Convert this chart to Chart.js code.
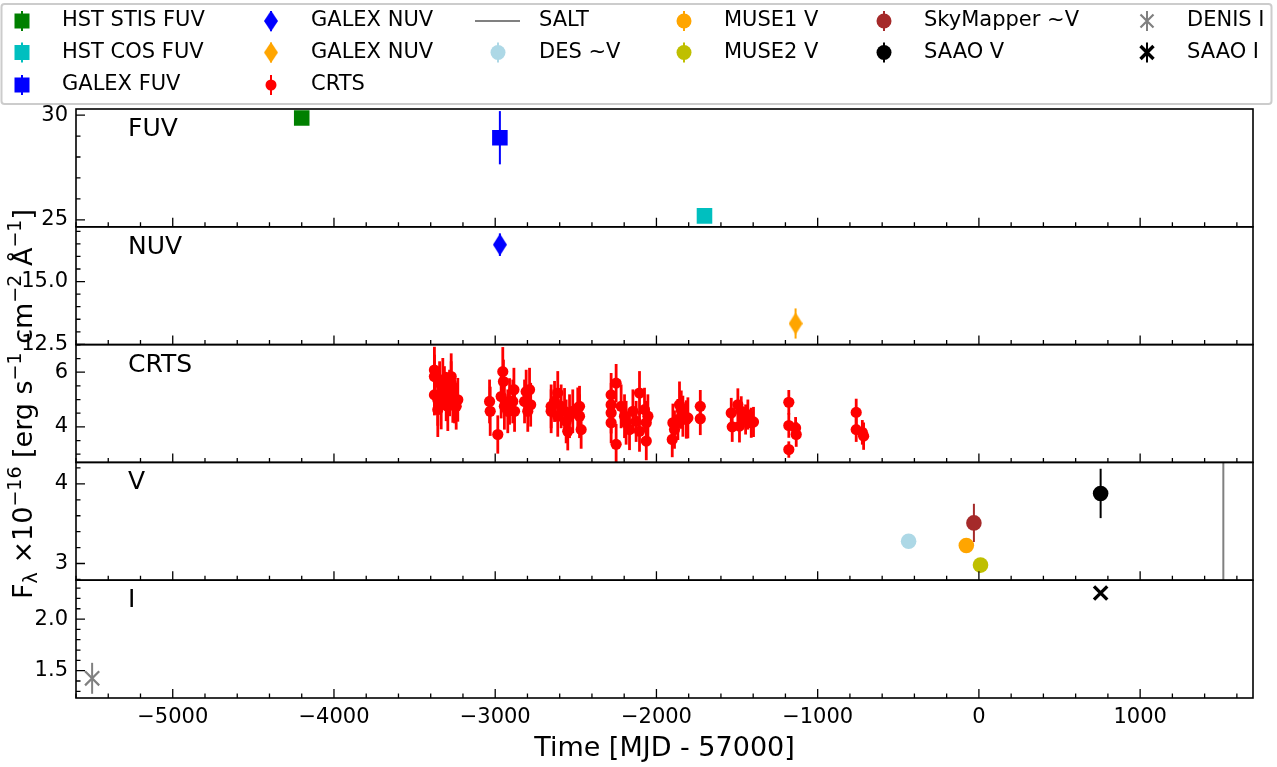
<!DOCTYPE html>
<html>
<head>
<meta charset="utf-8">
<script src="https://cdn.jsdelivr.net/npm/chart.js@4.4.1/dist/chart.umd.min.js"></script>
<style>
  html, body { margin: 0; padding: 0; background: #fff; }
  canvas { display: block; }
</style>
</head>
<body>
<canvas id="lc" width="1277" height="767"></canvas>
<script>
// time in MJD - 57000, flux in 1e-16 erg/s/cm2/A
const stisMjd = [-4200], stisFlux = [29.86], stisErr = [0];
const cosMjd = [-1702], cosFlux = [25.19], cosErr = [0];
const galexFuvMjd = [-2971], galexFuvFlux = [28.92], galexFuvErr = [1.27];
const galexNuvMjd = [-2971], galexNuvFlux = [16.47], galexNuvErr = [0.45];
const galexNuv2Mjd = [-1137], galexNuv2Flux = [13.33], galexNuv2Err = [0.6];

const crtsMjd = [
  -3377, -3377, -3377, -3356, -3356, -3345, -3335, -3325, -3315, -3304, -3294, -3283, -3273, -3273, -3263, -3252, -3242, -3232,
  -3035, -3031, -2984, -2963, -2953, -2949, -2943, -2922, -2911, -2891, -2884, -2880, -2818, -2808, -2798, -2787, -2780,
  -2653, -2653, -2632, -2612, -2612, -2591, -2570, -2560, -2550, -2539, -2519, -2488, -2477, -2477, -2467,
  -2281, -2281, -2281, -2281, -2250, -2250, -2219, -2198, -2188, -2167, -2146, -2126, -2105, -2105, -2074, -2063, -2063, -2053,
  -1902, -1898, -1888, -1867, -1857, -1846, -1836, -1815, -1805, -1728, -1728,
  -1536, -1530, -1495, -1485, -1474, -1447, -1433, -1412, -1398,
  -1179, -1179, -1179, -1137, -1133,
  -761, -761, -723, -715
];
const crtsFlux = [
  6.08, 5.84, 5.17, 4.99, 4.63, 5.60, 4.81, 5.72, 5.42, 5.11, 4.75, 5.24, 5.84, 5.60, 5.05, 4.93, 4.75, 4.99,
  4.93, 4.57, 3.72, 5.11, 6.02, 5.66, 4.75, 4.57, 4.93, 4.93, 5.36, 4.57, 4.93, 5.29, 4.57, 5.36, 4.81,
  4.75, 4.57, 4.93, 5.24, 4.39, 4.75, 4.57, 4.20, 3.84, 4.39, 4.57, 4.69, 4.39, 4.75, 3.90,
  5.17, 4.81, 4.51, 4.15, 5.60, 3.36, 4.75, 4.39, 4.15, 3.90, 4.57, 4.20, 5.24, 3.84, 4.63, 4.15, 3.48, 4.39,
  3.54, 4.15, 3.90, 4.27, 4.81, 4.63, 4.39, 4.27, 4.33, 4.75, 4.30,
  4.51, 4.00, 4.81, 4.03, 4.57, 4.27, 4.45, 4.15, 4.18,
  4.90, 4.05, 3.17, 3.96, 3.72,
  4.53, 3.90, 3.80, 3.66
];
const crtsErr = [
  0.85, 0.80, 0.75, 0.95, 1.00, 0.80, 0.90, 0.80, 0.80, 0.90, 0.90, 0.85, 0.85, 0.80, 0.90, 0.80, 0.85, 0.80,
  0.80, 0.90, 0.70, 0.80, 0.90, 0.80, 0.85, 0.80, 0.85, 0.80, 0.80, 0.75, 0.80, 0.80, 0.75, 0.80, 0.80,
  0.80, 0.80, 0.75, 0.80, 0.75, 0.80, 0.85, 0.80, 0.70, 0.80, 0.80, 0.75, 0.80, 0.75, 0.70,
  0.80, 0.80, 0.75, 0.75, 0.70, 0.75, 0.80, 0.80, 0.80, 0.75, 0.80, 0.75, 0.80, 0.75, 0.80, 0.80, 0.70, 0.80,
  0.65, 0.70, 0.70, 0.75, 0.85, 0.70, 0.75, 0.70, 0.75, 0.60, 0.60,
  0.55, 0.55, 0.60, 0.60, 0.55, 0.55, 0.55, 0.55, 0.55,
  0.45, 0.45, 0.30, 0.40, 0.45,
  0.50, 0.45, 0.45, 0.50
];

const saltMjd = 1516;
const desMjd = [-436], desFlux = [3.28], desErr = [0];
const muse1Mjd = [-78], muse1Flux = [3.226], muse1Err = [0];
const muse2Mjd = [10], muse2Flux = [2.98], muse2Err = [0];
const skyMjd = [-31], skyFlux = [3.51], skyErr = [0.24];
const saaoVMjd = [755], saaoVFlux = [3.88], saaoVErr = [0.31];
const denisMjd = [-5500], denisFlux = [1.426], denisErr = [0.15];
const saaoIMjd = [755], saaoIFlux = [2.253], saaoIErr = [0.01];

// axis limits and tick marks
const xLim = [-5600, 1700];
const xMajor = [-5000, -4000, -3000, -2000, -1000, 0, 1000];
const panels = [
  { id: 'yFUV', name: 'FUV', lim: [24.67, 30.29], major: [25, 30], minor: 1, dec: 0 },
  { id: 'yNUV', name: 'NUV', lim: [12.49, 17.18], major: [12.5, 15.0], minor: 0.5, dec: 1 },
  { id: 'yCRTS', name: 'CRTS', lim: [2.70, 7.01], major: [4, 6], minor: 0.5, dec: 0 },
  { id: 'yV', name: 'V', lim: [2.79, 4.27], major: [3, 4], minor: 0.2, dec: 0 },
  { id: 'yI', name: 'I', lim: [1.235, 2.377], major: [1.5, 2.0], minor: 0.1, dec: 1 }
];

const FONT = 'DejaVu Sans';
Chart.defaults.font.family = FONT;
Chart.defaults.color = '#000';

function diamond(color, w, h) {
  const c = document.createElement('canvas');
  c.width = w; c.height = h;
  const g = c.getContext('2d');
  g.fillStyle = color;
  g.beginPath();
  g.moveTo(w / 2, 0); g.lineTo(w, h / 2); g.lineTo(w / 2, h); g.lineTo(0, h / 2);
  g.closePath(); g.fill();
  return c;
}

const pts = (xs, ys) => xs.map((x, i) => ({ x, y: ys[i] }));

function series(label, axis, xs, ys, errs, color, style, radius, extra) {
  return Object.assign({
    label, yAxisID: axis, data: pts(xs, ys), errs, errColor: color, errWidth: 2,
    pointStyle: style, pointRadius: radius, pointHoverRadius: radius,
    backgroundColor: color, borderColor: color, borderWidth: 0, showLine: false
  }, extra || {});
}

const vPanel = panels[3];
const datasets = [
  series('HST STIS FUV', 'yFUV', stisMjd, stisFlux, stisErr, '#008000', 'rect', 11),
  series('HST COS FUV', 'yFUV', cosMjd, cosFlux, cosErr, '#00bfbf', 'rect', 11),
  series('GALEX FUV', 'yFUV', galexFuvMjd, galexFuvFlux, galexFuvErr, '#0000ff', 'rect', 11),
  series('GALEX NUV', 'yNUV', galexNuvMjd, galexNuvFlux, galexNuvErr, '#0000ff', diamond('#0000ff', 14, 22), 11),
  series('GALEX NUV', 'yNUV', galexNuv2Mjd, galexNuv2Flux, galexNuv2Err, '#ffa500', diamond('#ffa500', 14, 22), 11),
  series('CRTS', 'yCRTS', crtsMjd, crtsFlux, crtsErr, '#ff0000', 'circle', 5.6, { errWidth: 2.8 }),
  {
    label: 'SALT', yAxisID: 'yV', showLine: true, borderColor: '#808080', borderWidth: 2,
    pointRadius: 0, data: [{ x: saltMjd, y: vPanel.lim[0] }, { x: saltMjd, y: vPanel.lim[1] }]
  },
  series('DES ~V', 'yV', desMjd, desFlux, desErr, '#add8e6', 'circle', 7.8),
  series('MUSE1 V', 'yV', muse1Mjd, muse1Flux, muse1Err, '#ffa500', 'circle', 7.8),
  series('MUSE2 V', 'yV', muse2Mjd, muse2Flux, muse2Err, '#bfbf00', 'circle', 7.8),
  series('SkyMapper ~V', 'yV', skyMjd, skyFlux, skyErr, '#a52a2a', 'circle', 7.8),
  series('SAAO V', 'yV', saaoVMjd, saaoVFlux, saaoVErr, '#000000', 'circle', 7.8),
  series('DENIS I', 'yI', denisMjd, denisFlux, denisErr, '#808080', 'crossRot', 10, { borderWidth: 2.2 }),
  series('SAAO I', 'yI', saaoIMjd, saaoIFlux, saaoIErr, '#000000', 'crossRot', 9.4, { borderWidth: 3.4 })
];

// legend handles, column by column like matplotlib
const legendCols = [[0, 1, 2], [3, 4, 5], [6, 7], [8, 9], [10, 11], [12, 13]];
const legHandleX = [22, 271, 498, 684, 884, 1147];
const legTextX = [62, 311, 539, 724, 924, 1187];
const legRowY = [21, 52.5, 85];

const minus = v => (v < 0 ? '\u2212' + Math.abs(v) : String(v));

function yAxis(p) {
  return {
    type: 'linear', axis: 'y', position: 'left', stack: 'panels', stackWeight: 1,
    min: p.lim[0], max: p.lim[1],
    afterBuildTicks: s => { s.ticks = p.major.map(v => ({ value: v })); },
    afterFit: s => { s.width = 76; },
    grid: { display: false, drawTicks: false }, border: { display: false },
    ticks: {
      font: { size: 21 }, color: '#000', padding: 8, autoSkip: false,
      callback: v => minus(Number(v).toFixed(p.dec))
    }
  };
}

const scales = {
  x: {
    type: 'linear', position: 'bottom', min: xLim[0], max: xLim[1],
    afterBuildTicks: s => { s.ticks = xMajor.map(v => ({ value: v })); },
    afterFit: s => { s.height = 69; },
    grid: { display: false, drawTicks: false }, border: { display: false },
    ticks: { font: { size: 21 }, color: '#000', padding: 7, maxRotation: 0, autoSkip: false, callback: v => minus(v) },
    title: { display: true, text: 'Time [MJD - 57000]', font: { size: 27 }, color: '#000', padding: { top: 0, bottom: 2 } }
  }
};
// reversed so the first panel ends on top of the left stack
panels.slice().reverse().forEach(p => { scales[p.id] = yAxis(p); });

// error bars, drawn under the markers
const errorBars = {
  id: 'errorBars',
  beforeDatasetsDraw(chart) {
    const ctx = chart.ctx;
    const xs = chart.scales.x;
    ctx.save();
    chart.data.datasets.forEach(ds => {
      if (!ds.errs) return;
      const ys = chart.scales[ds.yAxisID];
      ctx.strokeStyle = ds.errColor;
      ctx.lineWidth = ds.errWidth;
      ds.data.forEach((d, i) => {
        const e = ds.errs[i];
        if (!e) return;
        const px = xs.getPixelForValue(d.x);
        ctx.beginPath();
        ctx.moveTo(px, Math.min(ys.bottom, ys.getPixelForValue(d.y - e)));
        ctx.lineTo(px, Math.max(ys.top, ys.getPixelForValue(d.y + e)));
        ctx.stroke();
      });
    });
    ctx.restore();
  }
};

function drawYTitle(ctx) {
  const segs = [['F', 0], ['\u03bb', -1], [' \u00d710', 0], ['\u221216', 1], [' [erg s', 0], ['\u22121', 1],
    [' cm', 0], ['\u22122', 1], [' \u00c5', 0], ['\u22121', 1], [']', 0]];
  const big = 27, small = 19;
  ctx.save();
  ctx.translate(32, 404);
  ctx.rotate(-Math.PI / 2);
  ctx.fillStyle = '#000';
  ctx.textBaseline = 'alphabetic';
  ctx.textAlign = 'left';
  let total = 0;
  segs.forEach(([t, m]) => { ctx.font = (m ? small : big) + 'px "' + FONT + '"'; total += ctx.measureText(t).width; });
  let x = -total / 2;
  segs.forEach(([t, m]) => {
    ctx.font = (m ? small : big) + 'px "' + FONT + '"';
    ctx.fillText(t, x, m === 1 ? -11 : m === -1 ? 5 : 0);
    x += ctx.measureText(t).width;
  });
  ctx.restore();
}

function drawHandle(ctx, ds, x, y) {
  const c = ds.borderColor;
  if (ds.label === 'SALT') {
    ctx.strokeStyle = c; ctx.lineWidth = 2;
    ctx.beginPath(); ctx.moveTo(x - 23, y); ctx.lineTo(x + 22, y); ctx.stroke();
    return;
  }
  ctx.strokeStyle = c; ctx.lineWidth = 2;
  ctx.beginPath(); ctx.moveTo(x, y - 10); ctx.lineTo(x, y + 10); ctx.stroke();
  ctx.fillStyle = c;
  if (ds.pointStyle === 'rect') {
    ctx.fillRect(x - 7.5, y - 7.5, 15, 15);
  } else if (ds.pointStyle === 'circle') {
    ctx.beginPath(); ctx.arc(x, y, ds.label === 'CRTS' ? 5.5 : 7.5, 0, Math.PI * 2); ctx.fill();
  } else if (ds.pointStyle === 'crossRot') {
    const r = 6.5;
    ctx.lineWidth = ds.borderWidth;
    ctx.beginPath();
    ctx.moveTo(x - r, y - r); ctx.lineTo(x + r, y + r);
    ctx.moveTo(x + r, y - r); ctx.lineTo(x - r, y + r);
    ctx.stroke();
  } else {
    ctx.drawImage(ds.pointStyle, x - 7, y - 10.5, 14, 21);
  }
}

const frame = {
  id: 'frame',
  afterDraw(chart) {
    const ctx = chart.ctx;
    const xs = chart.scales.x;
    const { left, right } = chart.chartArea;
    ctx.save();
    ctx.strokeStyle = '#000';
    panels.forEach(p => {
      const ys = chart.scales[p.id];
      // inward x ticks on the bottom edge of every panel
      ctx.lineWidth = 1.3;
      ctx.beginPath();
      for (let v = Math.ceil(xLim[0] / 200) * 200; v <= xLim[1]; v += 200) {
        const px = xs.getPixelForValue(v);
        const len = v % 1000 === 0 ? 9 : 4.5;
        ctx.moveTo(px, ys.bottom); ctx.lineTo(px, ys.bottom - len);
      }
      // inward y ticks on the left edge
      const start = Math.ceil(p.lim[0] / p.minor - 1e-6) * p.minor;
      for (let v = start; v <= p.lim[1] + 1e-9; v += p.minor) {
        const py = ys.getPixelForValue(v);
        const major = p.major.some(m => Math.abs(m - v) < 1e-6);
        ctx.moveTo(left, py); ctx.lineTo(left + (major ? 9 : 4.5), py);
      }
      ctx.stroke();
      ctx.lineWidth = 1.6;
      ctx.strokeRect(left, ys.top, right - left, ys.bottom - ys.top);
      ctx.fillStyle = '#000';
      ctx.font = '25px "' + FONT + '"';
      ctx.textBaseline = 'alphabetic';
      ctx.textAlign = 'left';
      ctx.fillText(p.name, 128, ys.top + 27);
    });
    drawYTitle(ctx);

    // legend
    ctx.fillStyle = '#fff';
    ctx.strokeStyle = '#cccccc';
    ctx.lineWidth = 2;
    ctx.beginPath();
    ctx.roundRect(1.5, 4, 1270, 100, 3);
    ctx.fill(); ctx.stroke();
    ctx.font = '21px "' + FONT + '"';
    ctx.textBaseline = 'middle';
    legendCols.forEach((col, ci) => col.forEach((di, ri) => {
      const ds = chart.data.datasets[di];
      drawHandle(ctx, ds, legHandleX[ci], legRowY[ri]);
      ctx.fillStyle = '#000';
      ctx.fillText(ds.label, legTextX[ci], legRowY[ri]);
    }));
    ctx.restore();
  }
};

new Chart(document.getElementById('lc'), {
  type: 'scatter',
  data: { datasets },
  options: {
    responsive: false,
    animation: false,
    layout: { padding: { top: 109, left: 0, right: 24, bottom: 0 } },
    plugins: { legend: { display: false }, tooltip: { enabled: false } },
    scales
  },
  plugins: [errorBars, frame]
});
</script>
</body>
</html>
